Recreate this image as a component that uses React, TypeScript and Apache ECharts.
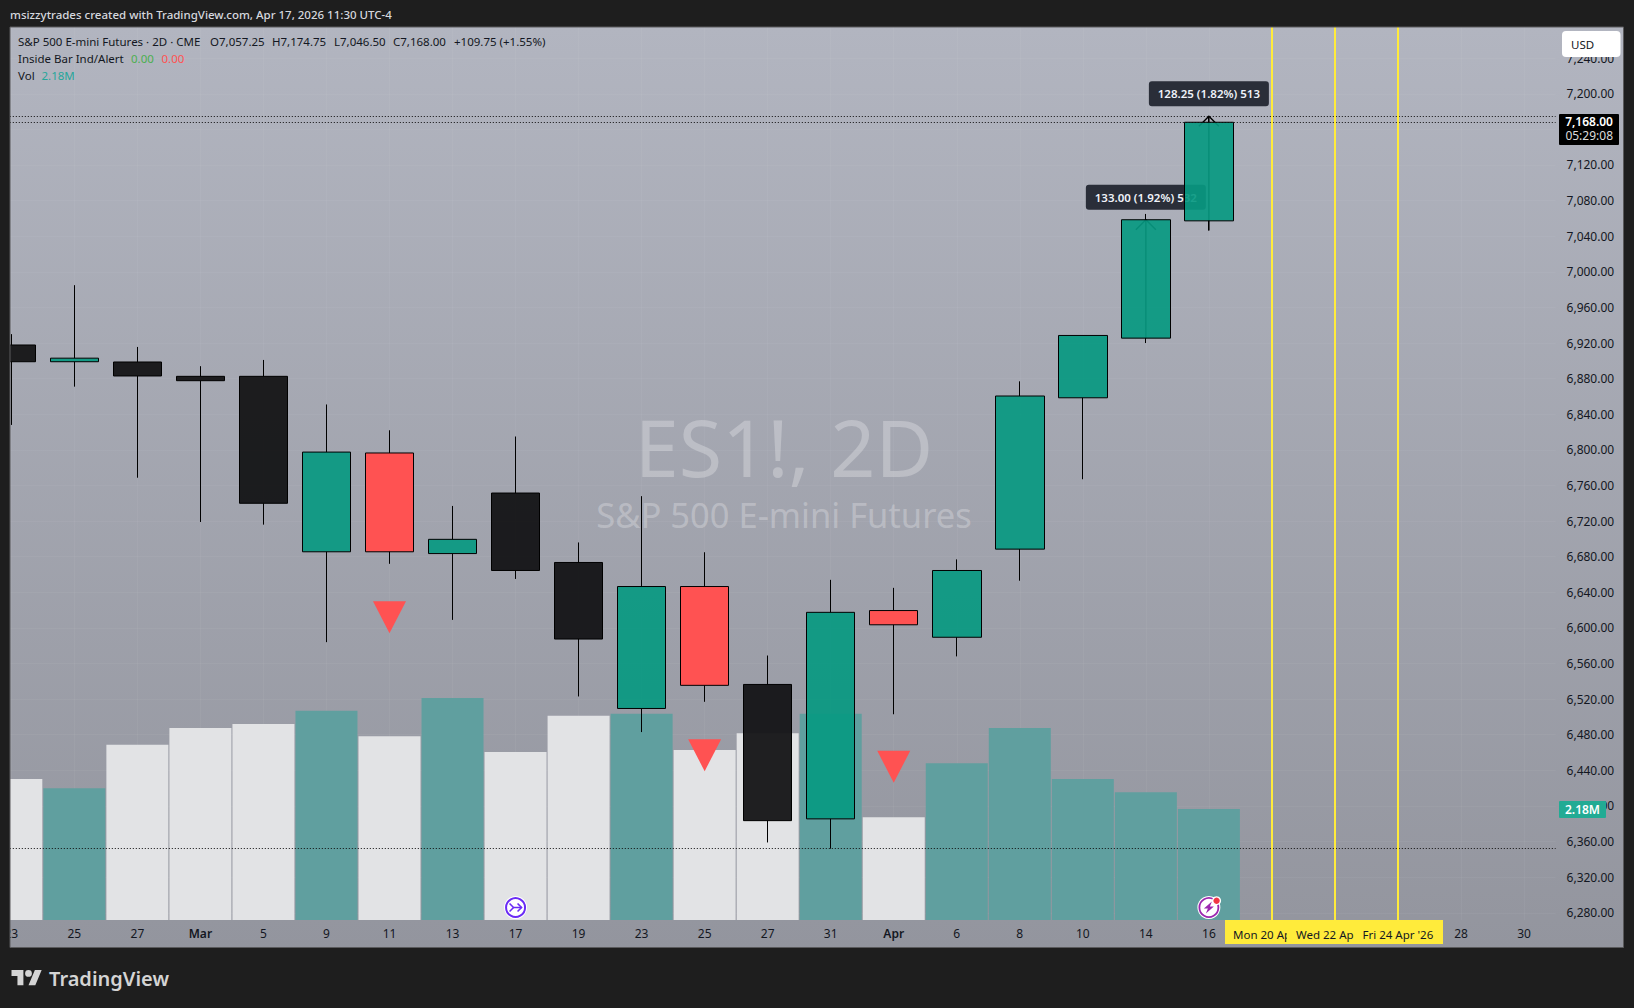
import React, { useEffect, useRef } from "react";
import * as echarts from "echarts";

const FONT = '"Noto Sans", sans-serif';

// ---- data ----
const dateLabels = ["23", "25", "27", "Mar", "5", "9", "11", "13", "17", "19", "23", "25", "27", "31", "Apr", "6", "8", "10", "14", "16", "20", "22", "24", "28", "30"];
const opens = [6917.8, 6899, 6898.7, 6882.6, 6882.6, 6685.5, 6796.5, 6683.5, 6751.5, 6673.5, 6509.5, 6646.5, 6536.5, 6385.5, 6619.5, 6589.5, 6688.5, 6858.5, 6925.5, 7057.25];
const closes = [6899, 6903, 6883, 6877.7, 6740, 6797.5, 6685.5, 6699.5, 6664.5, 6587.5, 6646.5, 6535.5, 6383.5, 6617.5, 6603.5, 6664.5, 6860.5, 6928.5, 7058.5, 7168];
const lows = [6828, 6871, 6768.7, 6719, 6716, 6584, 6672, 6609, 6655, 6523, 6483, 6517, 6359, 6352, 6503, 6568, 6653, 6767, 6920, 7046.5];
const highs = [6930, 6985, 6915.6, 6894, 6901, 6851, 6822, 6737, 6815, 6696, 6748, 6685, 6569, 6654, 6645, 6677, 6877, 6928.5, 7065, 7174.75];
const candleKinds = ["d", "u", "d", "d", "d", "u", "i", "u", "d", "d", "u", "i", "d", "u", "i", "u", "u", "u", "u", "u"];
const volumes = [2.77, 2.59, 3.44, 3.77, 3.85, 4.11, 3.61, 4.36, 3.3, 4.01, 4.05, 3.34, 3.67, 4.05, 2.02, 3.08, 3.77, 2.77, 2.51, 2.18];
const volumeKinds = ["w", "t", "w", "w", "w", "t", "w", "t", "w", "w", "t", "w", "w", "t", "w", "t", "t", "t", "t", "t"];
const insideBarSignals = [[6, 6612], [11, 6457], [14, 6444]];
const priceTicks = [6280, 6320, 6360, 6400, 6440, 6480, 6520, 6560, 6600, 6640, 6680, 6720, 6760, 6800, 6840, 6880, 6920, 6960, 7000, 7040, 7080, 7120, 7160, 7200, 7240];
const dottedPrices = [7174.75, 7168, 6352];
const futureMarks = [20, 21, 22];
const measureBars = [18, 19];
const measureFrom = [6925.5, 7046.5];
const measureTo = [7058.5, 7174.75];
const measureLabels = ["133.00 (1.92%) 532", "128.25 (1.82%) 513"];
const eventIcons = [[8, "split"], [19, "bolt"]];

const candleColors: Record<string, string> = {
  u: "rgba(8,153,129,0.92)",
  d: "rgba(20,20,22,0.95)",
  i: "#ff5252",
};
const volColors: Record<string, string> = { w: "#e2e3e5", t: "#609f9f" };

echarts.graphic.registerShape(
  "tvlogo",
  echarts.graphic.extendPath(
    "M14 22H7V11H0V4h14v18zM28 22h-8l7.5-18h8L28 22zM24 8a4 4 0 1 0-8 0 4 4 0 1 0 8 0z",
    {}
  )
);

// The canvas starts 40px left of the page, so the first candle's band can start off-page.
const PAGE_SHIFT = 40;
const GRID = { left: PAGE_SHIFT - 20.2, top: 27, width: 1575.75, height: 893 };
const DARK = "#131722";

function txt(text: string, x: number, y: number, fill: string, size = 12, z = 100, extra: any = {}) {
  return {
    type: "text",
    z,
    silent: true,
    style: {
      text,
      x,
      y,
      fill,
      font: `${extra.weight || 400} ${size}px ${FONT}`,
      textAlign: extra.align || "left",
      textVerticalAlign: "middle",
    },
  };
}

function rect(x: number, y: number, w: number, h: number, fill: any, z = 100, r = 0, extra: any = {}) {
  return { type: "rect", z, silent: true, shape: { x, y, width: w, height: h, r }, style: { fill, ...extra } };
}

function renderMeasure(params: any, api: any) {
  const i = api.value(0);
  const from = api.coord([i, api.value(1)]);
  const to = api.coord([i, api.value(2)]);
  const x = to[0];
  const y = to[1];
  const label = measureLabels[params.dataIndex];
  const lineStyle = { stroke: "#000", lineWidth: 1.4, fill: "none" };
  return {
    type: "group",
    children: [
      { type: "line", shape: { x1: x, y1: from[1], x2: x, y2: y }, style: lineStyle },
      { type: "polyline", shape: { points: [[x - 10, y + 10], [x, y], [x + 10, y + 10]] }, style: lineStyle },
      { type: "rect", shape: { x: x - 60, y: y - 35, width: 120, height: 25, r: 3 }, style: { fill: "#2a2e39" } },
      {
        type: "text",
        style: {
          text: label,
          x,
          y: y - 22.5,
          fill: "#f0f3fa",
          font: `600 11.5px ${FONT}`,
          textAlign: "center",
          textVerticalAlign: "middle",
        },
      },
    ],
  };
}

function renderIcon(_params: any, api: any) {
  const i = api.value(0);
  const kind = eventIcons[_params.dataIndex][1];
  const x = api.coord([i, 6400])[0];
  const y = 907.5;
  if (kind === "split") {
    const c = "#6a2cf5";
    const s = { stroke: c, lineWidth: 1.6, fill: "none" };
    return {
      type: "group",
      children: [
        { type: "circle", shape: { cx: x, cy: y, r: 11.5 }, style: { fill: "#fff" } },
        { type: "circle", shape: { cx: x, cy: y, r: 9.5 }, style: { stroke: c, lineWidth: 2, fill: "#fff" } },
        { type: "polyline", shape: { points: [[x - 6, y - 4], [x - 2, y], [x + 6, y]] }, style: s },
        { type: "line", shape: { x1: x - 6, y1: y + 4, x2: x - 2, y2: y }, style: s },
        { type: "polyline", shape: { points: [[x + 2, y - 4], [x + 6, y], [x + 2, y + 4]] }, style: s },
      ],
    };
  }
  const c = "#9c27b0";
  return {
    type: "group",
    children: [
      { type: "circle", shape: { cx: x, cy: y, r: 11.5 }, style: { fill: "#fff" } },
      { type: "circle", shape: { cx: x, cy: y, r: 9.5 }, style: { stroke: c, lineWidth: 1.8, fill: "#fff" } },
      {
        type: "polygon",
        shape: { points: [[x + 3, y - 6], [x - 5, y + 1], [x - 1, y + 1], [x - 3, y + 6], [x + 5, y - 1], [x + 1, y - 1]] },
        style: { fill: c },
      },
      { type: "circle", shape: { cx: x + 7.7, cy: y - 6.8, r: 4.5 }, style: { fill: "#fff" } },
      { type: "circle", shape: { cx: x + 7.7, cy: y - 6.8, r: 3.2 }, style: { fill: "#f23645" } },
    ],
  };
}

export default function App() {
  const ref = useRef<HTMLDivElement>(null);
  useEffect(() => {
    const chart = echarts.init(ref.current!, undefined, { renderer: "svg" });
    const candleData = opens.map((o, i) => {
      const col = candleColors[candleKinds[i]];
      return {
        value: [o, closes[i], lows[i], highs[i]],
        itemStyle: { color: col, color0: col, borderColor: "#000", borderColor0: "#000", borderWidth: 1 },
      };
    });
    const volData = volumes.map((v, i) => ({ value: v, itemStyle: { color: volColors[volumeKinds[i]] } }));
    const axisName = (v: string, index: number) => {
      if (futureMarks.includes(index)) return "";
      return v === "Mar" || v === "Apr" ? `{b|${v}}` : v;
    };

    const graphicItems = [
      rect(10, 27, 1613.5, 920.5, new echarts.graphic.LinearGradient(0, 0, 0, 1, [
        { offset: 0, color: "#b2b5c0" },
        { offset: 1, color: "#93959e" },
      ]), -1),
      txt("ES1!, 2D", 784, 446, "rgba(255,255,255,0.27)", 79, -1, { align: "center" }),
      txt("S&P 500 E-mini Futures", 784, 514, "rgba(255,255,255,0.27)", 34.5, -1, { align: "center" }),

      // chrome round the plot
      rect(-PAGE_SHIFT, 20, PAGE_SHIFT + 10, 935, "#1e1e1e", 100),
      { type: "rect", z: 101, silent: true, shape: { x: 10, y: 27, width: 1613.5, height: 920.5 }, style: { fill: "none", stroke: "#5a5a5c", lineWidth: 1 } },
      txt("msizzytrades created with TradingView.com, Apr 17, 2026 11:30 UTC-4", 10, 14.5, "#d6d8de", 11.5, 102, { weight: 500 }),

      // legend
      txt("S&P 500 E-mini Futures · 2D · CME", 18, 41.5, DARK, 11.5, 102),
      txt("O7,057.25", 210, 41.5, DARK, 11.5, 102),
      txt("H7,174.75", 272, 41.5, DARK, 11.5, 102),
      txt("L7,046.50", 334, 41.5, DARK, 11.5, 102),
      txt("C7,168.00", 393, 41.5, DARK, 11.5, 102),
      txt("+109.75 (+1.55%)", 454, 41.5, DARK, 11.5, 102),
      txt("Inside Bar Ind/Alert", 18, 58.5, DARK, 11.5, 102),
      txt("0.00", 131, 58.5, "#4caf50", 11.5, 102),
      txt("0.00", 161.5, 58.5, "#ff5252", 11.5, 102),
      txt("Vol", 18, 75.5, DARK, 11.5, 102),
      txt("2.18M", 41.5, 75.5, "#26a69a", 11.5, 102),

      // right-hand tags
      rect(1562, 31, 58.5, 26, "#ffffff", 102, 4),
      txt("USD", 1571, 44, DARK, 11.5, 103),
      rect(1559, 114, 60, 31, "#000000", 102, 1),
      txt("7,168.00", 1613, 121, "#ffffff", 12, 103, { weight: 600, align: "right" }),
      txt("05:29:08", 1613, 135, "#dcdcdc", 12, 103, { align: "right" }),
      rect(1559, 801, 47, 17, "#22ab94", 102, 1),
      txt("2.18M", 1582.5, 809.5, "#ffffff", 12, 103, { weight: 600, align: "center" }),

      // yellow date tags
      rect(1225, 920, 218, 24, "#ffeb3b", 102),
      txt("Mon 20 Apr", 1233, 934, DARK, 11.5, 103),
      rect(1287, 921, 70, 22, "#ffeb3b", 104),
      txt("Wed 22 Apr", 1296, 934, DARK, 11.5, 105),
      rect(1354, 921, 80, 22, "#ffeb3b", 106),
      txt("Fri 24 Apr '26", 1362.5, 934, DARK, 11.5, 107),

      // footer logo
      { type: "tvlogo", z: 102, silent: true, x: 11.5, y: 966.6, scaleX: 0.85, scaleY: 0.85, style: { fill: "#d4d4d4" } },
      txt("TradingView", 49, 978, "#d4d4d4", 20, 102, { weight: 600 }),
    ];

    chart.setOption({
      animation: false,
      backgroundColor: "#1e1e1e",
      textStyle: { fontFamily: FONT },
      grid: [
        { ...GRID, containLabel: false },
        { ...GRID, containLabel: false },
      ],
      xAxis: [
        {
          type: "category",
          gridIndex: 0,
          data: dateLabels,
          boundaryGap: true,
          axisLine: { show: false },
          axisTick: { show: false },
          axisLabel: {
            interval: 0,
            margin: 7,
            color: DARK,
            fontSize: 12,
            fontFamily: FONT,
            formatter: axisName,
            rich: { b: { fontWeight: 600, fontSize: 12, color: DARK, fontFamily: FONT } },
          },
          splitLine: { show: true, alignWithLabel: true, lineStyle: { color: "rgba(255,255,255,0.045)", width: 1 } },
        },
        {
          type: "category",
          gridIndex: 1,
          data: dateLabels,
          boundaryGap: true,
          axisLine: { show: false },
          axisTick: { show: false },
          axisLabel: { show: false },
          splitLine: { show: false },
        },
      ],
      yAxis: [
        {
          type: "value",
          gridIndex: 0,
          position: "right",
          min: 6271.9,
          max: 7275,
          axisLine: { show: false },
          axisTick: { show: false, customValues: priceTicks },
          axisLabel: {
            customValues: priceTicks,
            margin: 11,
            padding: [0, 0, 2, 0],
            color: DARK,
            fontSize: 12,
            fontFamily: FONT,
            formatter: (v: number) => v.toLocaleString("en-US", { minimumFractionDigits: 2, maximumFractionDigits: 2 }),
          },
          splitLine: { show: true, lineStyle: { color: "rgba(255,255,255,0.045)", width: 1 } },
        },
        {
          type: "value",
          gridIndex: 1,
          min: 0,
          max: 17.54,
          axisLine: { show: false },
          axisTick: { show: false },
          axisLabel: { show: false },
          splitLine: { show: false },
        },
      ],
      series: [
        {
          name: "Vol",
          type: "bar",
          xAxisIndex: 1,
          yAxisIndex: 1,
          z: 1,
          barWidth: 62,
          data: volData,
        },
        {
          name: "Measures",
          type: "custom",
          xAxisIndex: 0,
          yAxisIndex: 0,
          z: 2,
          clip: false,
          silent: true,
          renderItem: renderMeasure,
          data: measureBars.map((b, i) => [b, measureFrom[i], measureTo[i]]),
        },
        {
          name: "Events",
          type: "custom",
          xAxisIndex: 0,
          yAxisIndex: 0,
          z: 2,
          clip: false,
          silent: true,
          renderItem: renderIcon,
          encode: { x: 0 },
          data: eventIcons.map((e) => [e[0]]),
        },
        {
          name: "ES1!",
          type: "candlestick",
          xAxisIndex: 0,
          yAxisIndex: 0,
          z: 3,
          barWidth: 49,
          data: candleData,
          markLine: {
            silent: true,
            symbol: "none",
            label: { show: false },
            animation: false,
            data: [
              ...dottedPrices.map((p) => ({ yAxis: p, lineStyle: { color: "#0c0c0c", width: 1, type: [1, 2], opacity: 1 } })),
              ...futureMarks.map((i) => ({ xAxis: i, lineStyle: { color: "#ffeb3b", width: 2, type: "solid", opacity: 1 } })),
            ],
          },
        },
        {
          name: "Inside Bar Ind/Alert",
          type: "scatter",
          xAxisIndex: 0,
          yAxisIndex: 0,
          z: 4,
          symbol: "triangle",
          symbolRotate: 180,
          symbolSize: [33, 32],
          itemStyle: { color: "#ff5252", opacity: 1 },
          data: insideBarSignals,
        },
      ],
      graphic: [{ type: "group", x: PAGE_SHIFT, y: 0, children: graphicItems }],
    });
    return () => chart.dispose();
  }, []);
  return <div ref={ref} style={{ position: "fixed", left: -PAGE_SHIFT, top: 0, width: 1634 + PAGE_SHIFT, height: 1008 }} />;
}
